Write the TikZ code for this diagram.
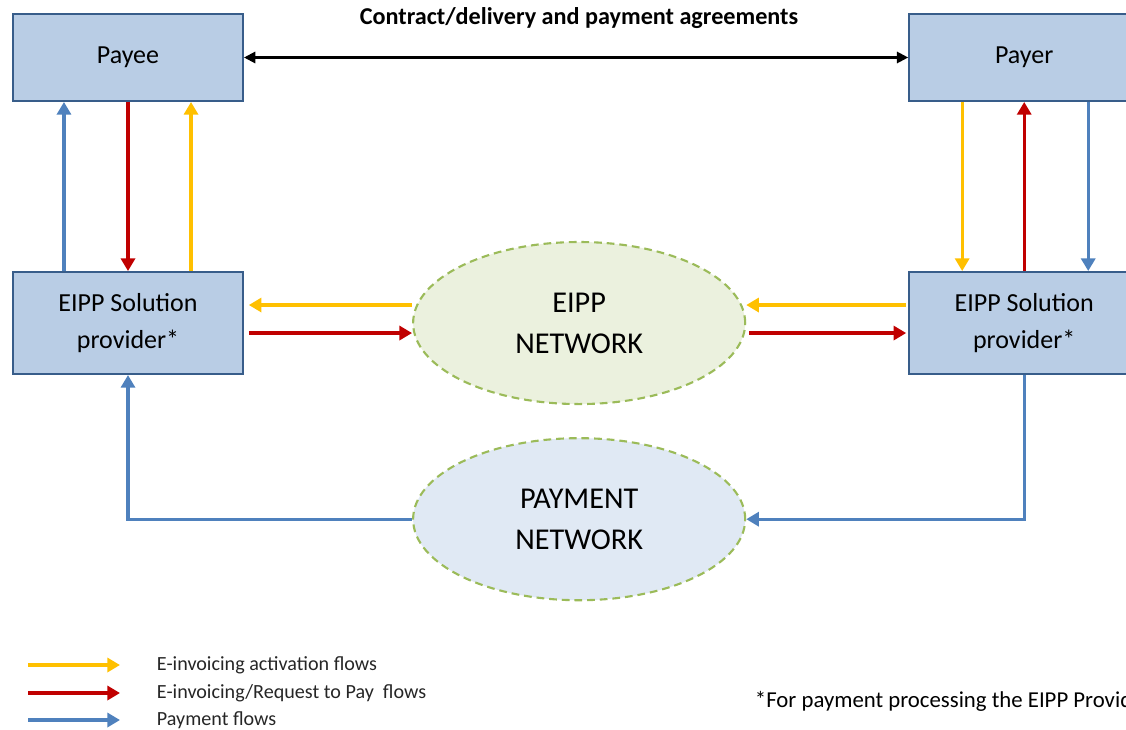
\documentclass[tikz,border=0pt]{standalone}
\usepackage{fontspec}
\setmainfont{Carlito}
\usetikzlibrary{arrows.meta, positioning, shapes.geometric}
\definecolor{boxblue}{RGB}{185,205,229}
\definecolor{boxedge}{RGB}{56,93,138}
\definecolor{flowyellow}{RGB}{255,192,0}
\definecolor{flowred}{RGB}{192,0,0}
\definecolor{flowblue}{RGB}{79,129,189}
\definecolor{netgreen}{RGB}{235,241,222}
\definecolor{netblue}{RGB}{224,233,244}
\definecolor{netedge}{RGB}{155,187,89}

\begin{document}
\begin{tikzpicture}[x=0.025cm, y=-0.025cm,
    box/.style={draw=boxedge, line width=1.4pt, fill=boxblue, minimum width=5.75cm, align=center, inner sep=2pt, font=\fontsize{18.5}{26}\selectfont},
    network/.style={ellipse, draw=netedge, line width=1.5pt, dash pattern=on 5.5pt off 3.5pt, minimum width=8.3cm, minimum height=4.05cm, inner sep=0pt, align=center, font=\fontsize{21.5}{29}\selectfont},
    flow/.style={-{Triangle[length=9pt, width=10pt]}, line width=2.2pt},
    yflow/.style={flow, draw=flowyellow},
    rflow/.style={flow, draw=flowred},
    bflow/.style={flow, draw=flowblue},
    contract_arrow/.style={{Triangle[length=8pt, width=8pt]}-{Triangle[length=8pt, width=8pt]}, line width=1.5pt, draw=black},
    legend_text/.style={anchor=west, text=black!85, font=\fontsize{14.3}{17}\selectfont}
]
    \useasboundingbox (0,0) rectangle (1126,730);
    \clip (0,0) rectangle (1126,730);

    % Parties at the top
    \node[box, minimum height=2.175cm] (payee) at (128,57.5) {Payee};
    \node[box, minimum height=2.175cm, right=16.6cm of payee] (payer) {Payer};

    \node[font=\fontsize{17.2}{20}\selectfont\bfseries] (title) at (579,18) {Contract/delivery and payment agreements};
    \draw[contract_arrow] (payee) -- (payer);

    % Solution providers
    \node[box, minimum height=2.55cm, below=4.225cm of payee] (spl) {EIPP Solution\\provider*};
    \node[box, minimum height=2.55cm, below=4.225cm of payer] (spr) {EIPP Solution\\provider*};

    % Networks in the middle
    \node[network, fill=netgreen, right=4.2cm of spl] (eipp) {EIPP\\NETWORK};
    \node[network, fill=netblue, below=0.8cm of eipp] (paynet) {PAYMENT\\NETWORK};

    % Flows between payee and its provider
    \draw[bflow] ([xshift=-1.6cm]spl.north) -- ([xshift=-1.6cm]payee.south);
    \draw[rflow] (payee.south) -- (spl.north);
    \draw[yflow] ([xshift=1.575cm]spl.north) -- ([xshift=1.575cm]payee.south);

    % Flows between payer and its provider
    \draw[yflow] ([xshift=-1.55cm]payer.south) -- ([xshift=-1.55cm]spr.north);
    \draw[rflow] (spr.north) -- (payer.south);
    \draw[bflow] ([xshift=1.6cm]payer.south) -- ([xshift=1.6cm]spr.north);

    % Providers and the EIPP network
    \draw[yflow, shorten >=0.12cm] ([yshift=0.45cm]eipp.west) -- ([yshift=0.45cm]spl.east);
    \draw[rflow, shorten <=0.12cm] ([yshift=-0.25cm]spl.east) -- ([yshift=-0.25cm]eipp.west);
    \draw[yflow, shorten <=0.05cm] ([yshift=0.45cm]spr.west) -- ([yshift=0.45cm]eipp.east);
    \draw[rflow, shorten <=0.08cm, shorten >=0.05cm] ([yshift=-0.25cm]eipp.east) -- ([yshift=-0.25cm]spr.west);

    % Payment path through the payment network
    \draw[bflow] (spr.south) |- (paynet.east);
    \draw[bflow] (paynet.west) -| (spl.south);

    % Legend
    \foreach \y/\sty/\txt [count=\i] in {665/yflow/{E-invoicing activation flows},
        693/rflow/{E-invoicing/Request to Pay\ \ flows},
        720/bflow/{Payment flows}} {
      \coordinate (lg\i s) at (28,\y);
      \coordinate (lg\i e) at (120,\y);
      \draw[\sty] (lg\i s) -- (lg\i e);
      \node[legend_text] (lg\i t) at (152,\y) {\txt};
    }

    % Footnote
    \node[legend_text, text=black, font=\fontsize{16.2}{20}\selectfont] (note) at (750,701) {*For payment processing the EIPP Provider};

\end{tikzpicture}
\end{document}
